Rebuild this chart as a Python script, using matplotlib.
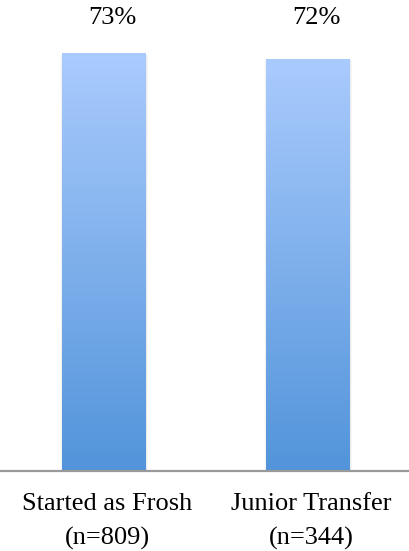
import numpy as np
import matplotlib.pyplot as plt
from matplotlib.colors import LinearSegmentedColormap
from matplotlib.patches import Rectangle

# completion rates by entry path
groups = ["Started as Frosh\n(n=809)", "Junior Transfer\n(n=344)"]
rates = [73, 72]
labels = ["73%", "72%"]

plt.rcParams["font.family"] = ["Liberation Serif", "DejaVu Serif"]

fig = plt.figure(figsize=(4.09, 5.51), dpi=100)
ax = fig.add_axes([0, 0.1452, 1, 0.8548])

bar_width = 0.407
x = np.arange(len(rates))
fade = LinearSegmentedColormap.from_list("fade", ["#5294da", "#aacbfd"])
grad = np.linspace(0, 1, 256).reshape(-1, 1)

for xi, val, lab in zip(x, rates, labels):
    left = xi - bar_width / 2
    # soft drop shadow on the sides of each bar
    for k in range(1, 7):
        sh = Rectangle((left - 0.002 * k + 0.004, 0), bar_width + 0.004 * k, val - 0.3,
                       facecolor="black", alpha=0.016, edgecolor="none", zorder=1)
        ax.add_patch(sh)
    bar = ax.bar(xi, val, width=bar_width, color="none", zorder=2)[0]
    img = ax.imshow(grad, cmap=fade, aspect="auto", origin="lower",
                    extent=[left, left + bar_width, 0, val], zorder=3)
    img.set_clip_path(bar)
    ax.text(xi + 0.045, 79.2, lab, ha="center", va="center", fontsize=19, color="black")

ax.set_xlim(-0.507, 1.4975)
ax.set_ylim(0, 82.26)
ax.set_xticks(x + 0.02)
ax.set_xticklabels(groups, fontsize=19, linespacing=1.65)
ax.tick_params(axis="x", length=0, pad=16)
ax.set_yticks([])
for side in ["top", "right", "left"]:
    ax.spines[side].set_visible(False)
ax.spines["bottom"].set_color("#999999")
ax.spines["bottom"].set_linewidth(1.6)
ax.spines["bottom"].set_zorder(5)

fig.savefig("out.png", dpi=100)
